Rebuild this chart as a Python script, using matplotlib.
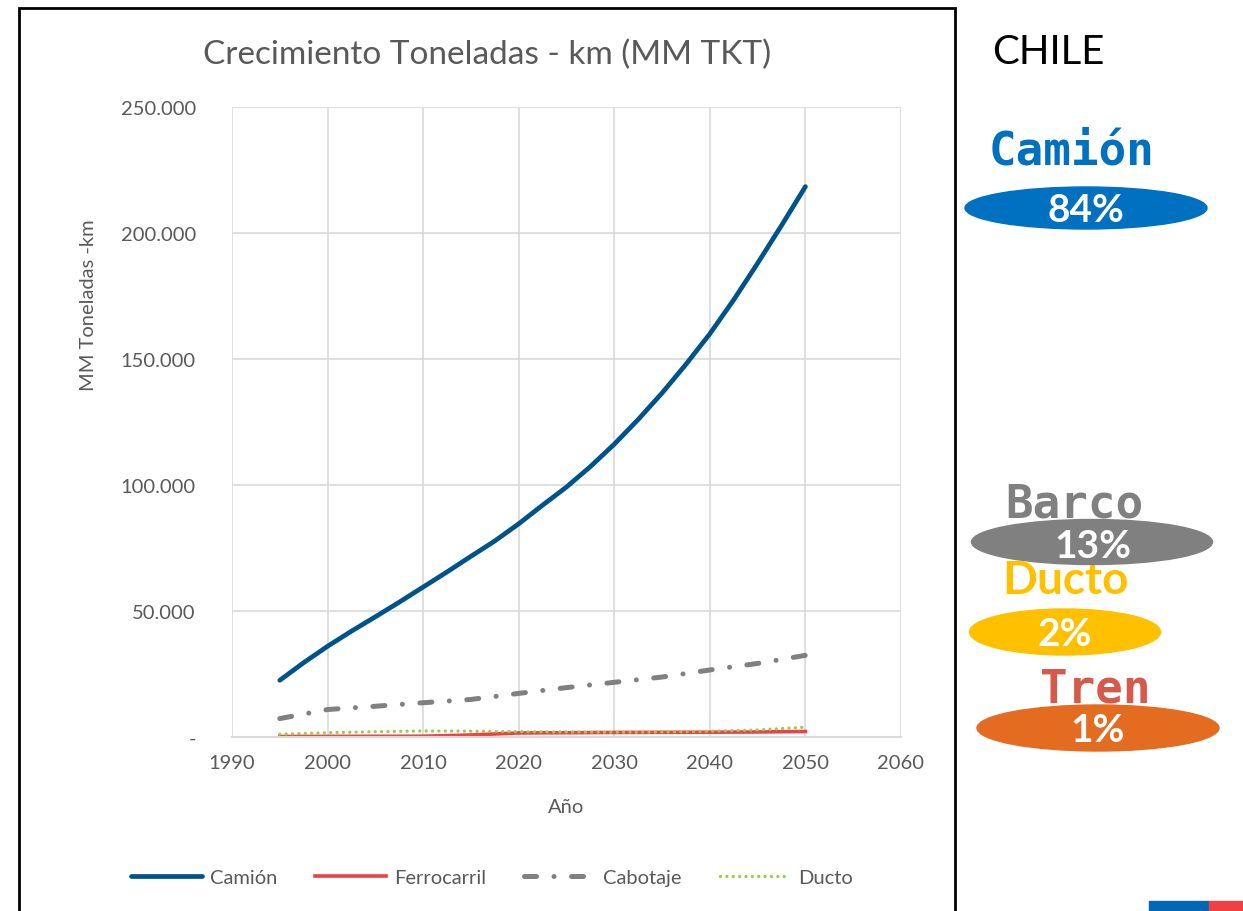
import matplotlib.pyplot as plt
from matplotlib.patches import Ellipse, Rectangle
from matplotlib.ticker import FuncFormatter

plt.rcParams['font.family'] = ['Lato', 'DejaVu Sans']

# data (MM TKT)
years = [1995, 2000, 2005, 2010, 2015, 2020, 2025, 2030, 2035, 2040, 2045, 2050]
camion_years = [1995, 1997.5, 2000, 2002.5, 2005, 2007.5, 2010, 2012.5, 2015, 2017.5,
                2020, 2022.5, 2025, 2027.5, 2030, 2032.5, 2035, 2037.5, 2040, 2042.5,
                2045, 2047.5, 2050]
camion = [22500, 29500, 36000, 42000, 47700, 53500, 59500, 65500, 71700, 77800,
          84600, 92000, 99200, 107300, 116200, 126000, 136500, 147900, 160000, 173500,
          188000, 203000, 218400]
ferrocarril = [200, 250, 280, 300, 800, 1600, 1700, 1800, 1850, 1900, 2000, 2200]
cabotaje = [7300, 10900, 12200, 13600, 14900, 17300, 19600, 21700, 23800, 26600, 29200, 32400]
ducto = [1100, 1700, 2100, 2400, 2300, 2100, 2000, 1900, 2000, 2300, 2800, 3900]

shares = ["84%", "13%", "2%", "1%"]
modes = ["Camión", "Barco", "Ducto", "Tren"]

W, H = 1243, 912
fig = plt.figure(figsize=(W / 100, H / 100), dpi=100)


def fx(px):
    return px / W


def fy(py):
    return 1 - py / H


ax = fig.add_axes([fx(232), fy(738), fx(901) - fx(232), fy(108) - fy(738)])

ax.plot(camion_years, camion, color='#00538A', lw=3.4, solid_capstyle='round',
        solid_joinstyle='round', label='Camión')
ax.plot(years, ferrocarril, color='#EE4045', lw=2.6, label='Ferrocarril')
ax.plot(years, cabotaje, color='#808080', lw=3.6, dash_capstyle='round',
        linestyle=(0, (2.4, 3.5, 0.01, 3.5)), label='Cabotaje')
ax.plot(years, ducto, color='#92D050', lw=2.4, dash_capstyle='round',
        linestyle=(0, (0.01, 1.9)), label='Ducto')

ax.set_xlim(1990, 2060)
ax.set_ylim(0, 250000)
ax.set_xticks(range(1990, 2061, 10))
ax.set_yticks(range(0, 250001, 50000))


def fmt(v, pos):
    if v == 0:
        return '-'
    return '{:,.0f}'.format(v).replace(',', '.')


ax.yaxis.set_major_formatter(FuncFormatter(fmt))
ax.grid(True, color='#D9D9D9', lw=1.2)
ax.set_axisbelow(True)
for s in ['top', 'right', 'left']:
    ax.spines[s].set_visible(False)
ax.spines['bottom'].set_color('#D9D9D9')
ax.spines['bottom'].set_linewidth(1.5)
ax.tick_params(length=0, labelsize=14.5, colors='#595959', pad=12)
ax.tick_params(axis='y', pad=26)

fig.text(fx(487), fy(55), 'Crecimiento Toneladas - km (MM TKT)', ha='center', va='center',
         fontsize=24, color='#595959')
fig.text(fx(88), fy(305), 'MM Toneladas -km', rotation=90, ha='center', va='center',
         fontsize=14.5, color='#595959')
fig.text(fx(566), fy(808), 'Año', ha='center', va='center', fontsize=14.5, color='#595959')

fig.legend(loc='center', bbox_to_anchor=(fx(492), fy(878)), ncol=4, frameon=False,
           fontsize=14.5, handlelength=3.5, columnspacing=1.9, handletextpad=0.4,
           labelcolor='#595959')

# frame around the chart
fig.add_artist(Rectangle((fx(19), fy(930)), fx(955) - fx(19), fy(9) - fy(930),
                         transform=fig.transFigure, fill=False, ec='black', lw=2))

fig.text(fx(1048), fy(52), 'CHILE', ha='center', va='center', fontsize=29, color='black')

# share ellipses on the right
mono = 'DejaVu Sans Mono'
label_specs = [
    (1071, 152, '#0070C0', mono),
    (1074, 505, '#808080', mono),
    (1065, 581, '#FFC000', 'Lato'),
    (1095, 690, '#D65A4A', mono),
]
ell_specs = [
    (1086, 209, 242, 42, '#0070C0'),
    (1092, 543, 241, 45, '#808080'),
    (1065, 633, 191, 46, '#FFC000'),
    (1098, 729, 242, 46, '#E36C21'),
]
pct_pos = [(1086, 210), (1093, 546), (1065, 635), (1098, 731)]

for i in range(4):
    lx, ly, lc, lf = label_specs[i]
    fig.text(fx(lx), fy(ly), modes[i], ha='center', va='center', fontsize=33,
             fontweight='bold', color=lc, family=lf, zorder=1)
    cx, cy, w, h, c = ell_specs[i]
    fig.add_artist(Ellipse((fx(cx), fy(cy)), fx(w), h / H, transform=fig.transFigure,
                           color=c, zorder=2))
    px, py = pct_pos[i]
    fig.text(fx(px), fy(py), shares[i], ha='center', va='center', fontsize=28,
             fontweight='bold', color='white', zorder=3)

# small flag strip bottom right
fig.add_artist(Rectangle((fx(1149), 0), fx(60), fy(902), transform=fig.transFigure,
                         color='#0067B4'))
fig.add_artist(Rectangle((fx(1209), 0), fx(34), fy(902), transform=fig.transFigure,
                         color='#EF4044'))

fig.savefig('out.png', dpi=100)
